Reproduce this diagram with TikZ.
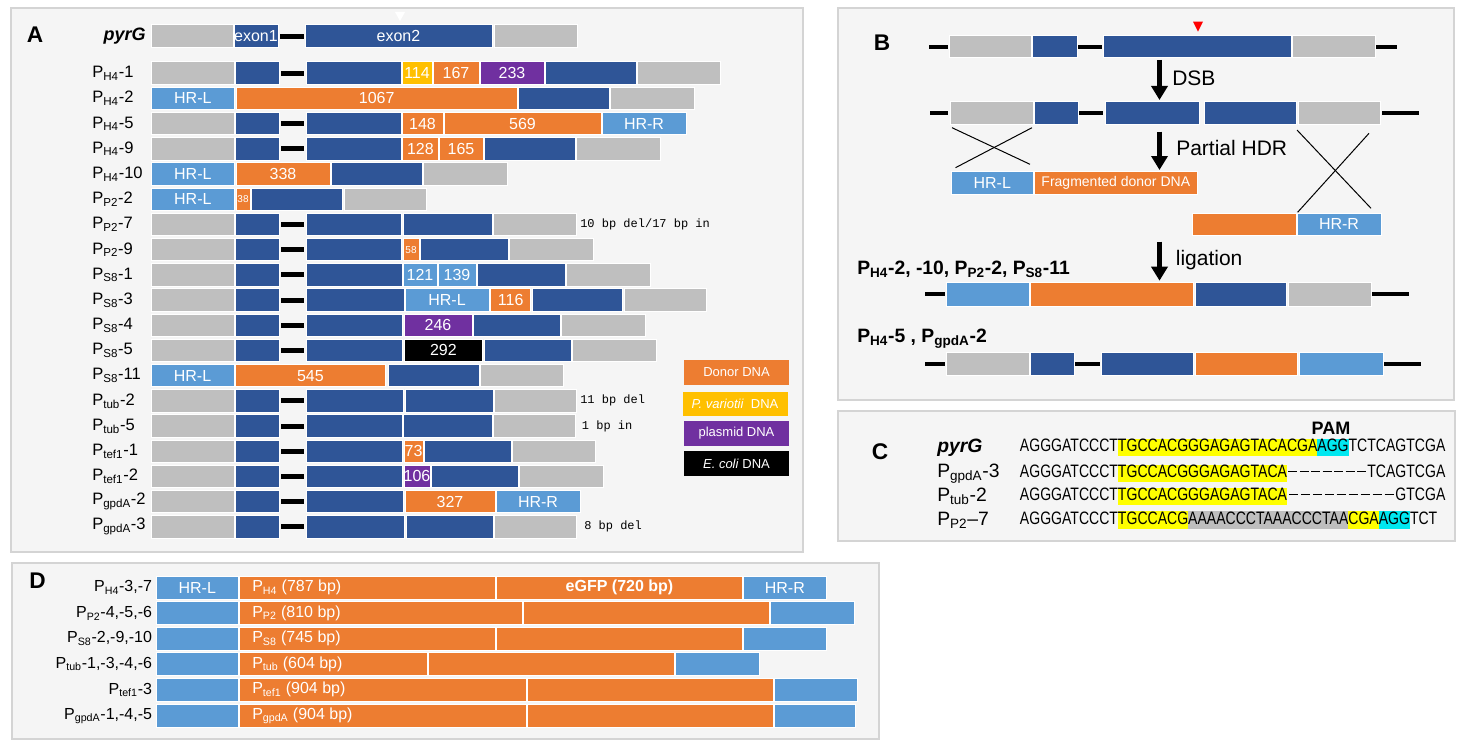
\documentclass[tikz,border=0pt]{standalone}
\usepackage{fontspec}
\setmainfont{Liberation Sans}
\newfontfamily\annfont{Liberation Mono}
\newfontfamily\seqfont[FakeStretch=0.78]{Liberation Sans}
\usetikzlibrary{arrows.meta}
\definecolor{db}{HTML}{2F5597}
\definecolor{gr}{HTML}{BFBFBF}
\definecolor{og}{HTML}{ED7D31}
\definecolor{lb}{HTML}{5B9BD5}
\definecolor{yl}{HTML}{FFC000}
\definecolor{pu}{HTML}{7030A0}
\definecolor{bg}{HTML}{F5F5F5}
\definecolor{bd}{HTML}{D4D4D4}
\definecolor{hy}{HTML}{FFFF00}
\definecolor{hc}{HTML}{00E8F0}
\definecolor{hg}{HTML}{BEBEBE}
\newcounter{sgc}
\newcommand\fs[1]{\fontsize{#1}{#1}\selectfont}
\newcommand\sbs[1]{\textsubscript{#1}}
\def\ilw{3.75pt}
\newcommand\sgm[4]{\stepcounter{sgc}%
  \path[fill=#3,draw=white,line width=0.75pt] ({#1},{\RT}) rectangle ({#2},{\RT+\RH});%
  \node[bartext] (s\arabic{sgc}) at ({(#1+#2)/2},{\RT+\RH/2}) {#4};}
\newcommand\lnk[2]{\draw[line width=\ilw] ({#1},{\RT+\RH/2}) -- ({#2},{\RT+\RH/2});}
\newcommand\stdpre{\sgm{151}{234}{gr}{}\sgm{235}{279}{db}{}\lnk{281}{304}}
\newcommand\rlab[1]{\stepcounter{sgc}\node[rowlab] (l\arabic{sgc}) at (92,{\RT+\RH/2}) {#1};}
\newcommand\annot[2]{\stepcounter{sgc}\node[ann] (a\arabic{sgc}) at (#1,{\RT+\RH/2}) {#2};}
\setlength\fboxsep{0pt}
\newcommand\seqstrut{\rule[-3.4pt]{0pt}{13pt}}
\newcommand\hl[2]{\colorbox{#1}{\seqstrut#2}}
\newcommand\gap[1]{\setbox0\hbox{#1}\hbox to \wd0{\xleaders\hbox to 0.62em{\hss\rule[0.3em]{0.5em}{0.07em}\hss}\hfill}}
\begin{document}
\begin{tikzpicture}[x=0.75pt,y=-0.75pt,
 bartext/.style={text=white,font=\fs{12},inner sep=0pt},
 rowlab/.style={anchor=west,font=\fs{12.4},inner sep=0pt},
 dlab/.style={anchor=east,font=\fs{12},inner sep=0pt},
 panlab/.style={font=\bfseries\fs{17},inner sep=0pt},
 panel/.style={fill=bg,draw=bd,line width=1.2pt},
 ann/.style={anchor=west,font=\annfont\fs{9},inner sep=0pt},
 legbox/.style={minimum width=78.75pt,minimum height=18.5pt,text=white,font=\fs{9.75},inner sep=0pt},
 bigarrow/.style={line width=3.5pt,-{Triangle[width=12pt,length=10.5pt]}},
 xline/.style={line width=0.75pt},
 btext/.style={anchor=west,font=\fs{15.75},inner sep=0pt},
 blab/.style={anchor=west,font=\bfseries\fs{14.5},inner sep=0pt},
 clab/.style={anchor=west,font=\fs{14.5},inner sep=0pt},
 seq/.style={anchor=west,font=\seqfont\fs{13.5},inner sep=0pt},
]
\fill[white] (0,0) rectangle (1467,749);
\useasboundingbox (0,0) rectangle (1467,749);
% panels
\draw[panel] (11,8) rectangle (803,552);
\draw[panel] (838,8) rectangle (1454,400);
\draw[panel] (838,411) rectangle (1455,541);
\draw[panel] (12,563) rectangle (879,739);
% ================= A =================
\node[panlab] (pA) at (35,35) {A};
\def\RH{22.5}
\def\RT{25}
\node[anchor=east,font=\bfseries\itshape\fs{13.5},inner sep=0pt] (pyrA) at (146,36.2) {pyrG};
\sgm{151}{233}{gr}{}\sgm{234}{278}{db}{exon1}\lnk{280}{304}\sgm{305}{492}{db}{exon2}\sgm{494}{577}{gr}{}
\fill[white] (395,12) -- (405,12) -- (400,21) -- cycle;
\def\RT{62}\rlab{P\sbs{H4}-1}
\stdpre\sgm{306}{401}{db}{}\sgm{402}{432}{yl}{114}\sgm{433}{479}{og}{167}\sgm{480}{544}{pu}{233}\sgm{545}{636}{db}{}\sgm{637}{720}{gr}{}
\def\RT{87.2}\rlab{P\sbs{H4}-2}
\sgm{151}{234.7}{lb}{HR-L}\sgm{236}{517.3}{og}{1067}\sgm{518}{609}{db}{}\sgm{610}{694}{gr}{}
\def\RT{112.4}\rlab{P\sbs{H4}-5}
\stdpre\sgm{306}{401}{db}{}\sgm{402}{443}{og}{148}\sgm{444}{601}{og}{569}\sgm{602}{686}{lb}{HR-R}
\def\RT{137.6}\rlab{P\sbs{H4}-9}
\stdpre\sgm{306}{401.7}{db}{}\sgm{402.7}{438}{og}{128}\sgm{439}{483}{og}{165}\sgm{484}{575}{db}{}\sgm{576}{660}{gr}{}
\def\RT{162.8}\rlab{P\sbs{H4}-10}
\sgm{151}{234.7}{lb}{HR-L}\sgm{236}{330}{og}{338}\sgm{331}{422}{db}{}\sgm{423}{507}{gr}{}
\def\RT{188}\rlab{P\sbs{P2}-2}
\sgm{151}{234.7}{lb}{HR-L}\sgm{236}{250}{og}{\fs{7.5}38}\sgm{251.7}{342.7}{db}{}\sgm{344}{426.7}{gr}{}
\def\RT{213.2}\rlab{P\sbs{P2}-7}
\stdpre\sgm{306}{401.7}{db}{}\sgm{403}{492}{db}{}\sgm{493}{576}{gr}{}\annot{580}{10 bp del/17 bp in}
\def\RT{238.4}\rlab{P\sbs{P2}-9}
\stdpre\sgm{306}{401.7}{db}{}\sgm{403}{419}{og}{\fs{7.5}58}\sgm{420}{508}{db}{}\sgm{509}{593}{gr}{}
\def\RT{263.6}\rlab{P\sbs{S8}-1}
\stdpre\sgm{306}{402}{db}{}\sgm{403}{437}{lb}{121}\sgm{438}{476}{lb}{139}\sgm{477}{565}{db}{}\sgm{566}{650}{gr}{}
\def\RT{288.8}\rlab{P\sbs{S8}-3}
\stdpre\sgm{306}{404}{db}{}\sgm{405}{489}{lb}{HR-L}\sgm{490.7}{530.7}{og}{116}\sgm{532}{622.7}{db}{}\sgm{624}{706.7}{gr}{}
\def\RT{314}\rlab{P\sbs{S8}-4}
\stdpre\sgm{306}{402.7}{db}{}\sgm{404}{472}{pu}{246}\sgm{473}{560}{db}{}\sgm{561}{645}{gr}{}
\def\RT{339.2}\rlab{P\sbs{S8}-5}
\stdpre\sgm{306}{402.7}{db}{}\sgm{404}{482.7}{black}{292}\sgm{484}{571}{db}{}\sgm{572.3}{656}{gr}{}
\def\RT{364.4}\rlab{P\sbs{S8}-11}
\sgm{151}{234}{lb}{HR-L}\sgm{235}{385.7}{og}{545}\sgm{388}{479}{db}{}\sgm{480}{563}{gr}{}
\def\RT{389.6}\rlab{P\sbs{tub}-2}
\stdpre\sgm{306}{403}{db}{}\sgm{405}{493}{db}{}\sgm{494}{576.7}{gr}{}\annot{580}{11 bp del}
\def\RT{414.8}\rlab{P\sbs{tub}-5}
\stdpre\sgm{306}{402}{db}{}\sgm{403}{492}{db}{}\sgm{493}{575}{gr}{}\annot{581.7}{1 bp in}
\def\RT{440}\rlab{P\sbs{tef1}-1}
\stdpre\sgm{306}{402.7}{db}{}\sgm{404}{423}{og}{73}\sgm{424}{511}{db}{}\sgm{512}{595}{gr}{}
\def\RT{465.2}\rlab{P\sbs{tef1}-2}
\stdpre\sgm{306}{402.7}{db}{}\sgm{404}{430}{pu}{106}\sgm{431}{518}{db}{}\sgm{519}{603}{gr}{}
\def\RT{490.4}\rlab{P\sbs{gpdA}-2}
\stdpre\sgm{306}{403.3}{db}{}\sgm{405}{495}{og}{327}\sgm{496}{580}{lb}{HR-R}
\def\RT{515.6}\rlab{P\sbs{gpdA}-3}
\stdpre\sgm{306}{404}{db}{}\sgm{406}{493}{db}{}\sgm{494}{576.7}{gr}{}\annot{584}{8 bp del}
% legend
\node[legbox,fill=og] (lg1) at (736.5,372.5) {Donor DNA};
\node[legbox,fill=yl] (lg2) at (735,404) {\textit{P. variotii}\ \ DNA};
\node[legbox,fill=pu] (lg3) at (736.5,433.5) {plasmid DNA};
\node[legbox,fill=black] (lg4) at (736.5,463.5) {\textit{E. coli} DNA};
% ================= B =================
\def\ilw{3pt}
\node[panlab] (pB) at (882,43) {B};
\def\RT{35.7}\def\RH{22}
\lnk{929}{947.5}\sgm{949}{1031}{gr}{}\sgm{1032}{1077}{db}{}\lnk{1078}{1102}\sgm{1103}{1291}{db}{}\sgm{1292}{1375}{gr}{}\lnk{1376}{1397}
\fill[red] (1193,21.7) -- (1203,21.7) -- (1198,31.7) -- cycle;
\coordinate (d1) at (1159.5,60); \coordinate (d2) at (1159.5,100);
\draw[bigarrow] (d1) -- (d2);
\node[btext] (tDSB) at (1172,78) {DSB};
\def\RT{101.7}\def\RH{22.6}
\lnk{930}{948}\sgm{950}{1033}{gr}{}\sgm{1034}{1078}{db}{}\lnk{1079}{1103}\sgm{1105}{1199}{db}{}\sgm{1204.5}{1296}{db}{}\sgm{1298}{1380}{gr}{}\lnk{1382}{1419}
\draw[xline] (952,127.7) -- (1030,164.3);
\draw[xline] (1032,127.7) -- (955.5,167.7);
\draw[xline] (1297,130) -- (1371,208.3);
\draw[xline] (1369,133.3) -- (1297.6,212.3);
\coordinate (h1) at (1159.5,131.7); \coordinate (h2) at (1159.5,170);
\draw[bigarrow] (h1) -- (h2);
\node[btext] (tHDR) at (1176,148.3) {Partial HDR};
\def\RT{171}\def\RH{23.3}
\sgm{951.5}{1033}{lb}{HR-L}\sgm{1034}{1197.6}{og}{\fs{10.5}Fragmented donor DNA}
\def\RT{213.3}\def\RH{21.7}
\sgm{1192}{1296}{og}{}\sgm{1297}{1381}{lb}{HR-R}
\coordinate (g1) at (1159.5,241.7); \coordinate (g2) at (1159.5,280.7);
\draw[bigarrow] (g1) -- (g2);
\node[btext] (tlig) at (1175.6,260) {ligation};
\node[blab] (bl1) at (857,269) {P\sbs{H4}-2, -10, P\sbs{P2}-2, P\sbs{S8}-11};
\def\RT{282.7}\def\RH{23.3}
\lnk{925}{945.4}\sgm{946.6}{1029}{lb}{}\sgm{1030}{1193.6}{og}{}\sgm{1195}{1286.4}{db}{}\sgm{1288}{1371}{gr}{}\lnk{1372}{1409}
\node[blab] (bl2) at (857,339) {P\sbs{H4}-5 , P\sbs{gpdA}-2};
\def\RT{352}\def\RH{23}
\lnk{925}{945}\sgm{946.6}{1029}{gr}{}\sgm{1030}{1074}{db}{}\lnk{1075}{1100}\sgm{1101}{1193.6}{db}{}\sgm{1195}{1297.6}{og}{}\sgm{1299}{1383}{lb}{}\lnk{1384}{1421}
% ================= C =================
\node[panlab] (pC) at (880,452) {C};
\node[font=\bfseries\fs{13.5},inner sep=0pt] (pam) at (1331,428) {PAM};
\node[clab,font=\bfseries\itshape\fs{14.5}] (c1) at (937,447.7) {pyrG};
\node[clab] (c2) at (937,473.3) {P\sbs{gpdA}-3};
\node[clab] (c3) at (937,496.7) {P\sbs{tub}-2};
\node[clab] (c4) at (937,520) {P\sbs{P2}–7};
\node[seq] (q1) at (1019.7,447.7) {\seqstrut AGGGATCCCT\hl{hy}{TGCCACGGGAGAGTACACGA}\hl{hc}{AGG}TCTCAGTCGA};
\node[seq] (q2) at (1019.7,473.3) {\seqstrut AGGGATCCCT\hl{hy}{TGCCACGGGAGAGTACA}\gap{CGAAGGTC}TCAGTCGA};
\node[seq] (q3) at (1019.7,496.7) {\seqstrut AGGGATCCCT\hl{hy}{TGCCACGGGAGAGTACA}\gap{CGAAGGTCTCA}GTCGA};
\node[seq] (q4) at (1019.7,520) {\seqstrut AGGGATCCCT\hl{hy}{TGCCACG}\hl{hg}{AAAACCCTAAACCCTAA}\hl{hy}{CGA}\hl{hc}{AGG}TCT};
% ================= D =================
\node[panlab] (pD) at (37.5,580.5) {D};
\def\RH{23}
\newcommand\drow[6]{\def\RT{#1}%
  \stepcounter{sgc}\node[dlab] (dl\arabic{sgc}) at (152.3,{\RT+\RH/2}) {#2};%
  \sgm{156}{238.5}{lb}{}\sgm{239.5}{#4}{og}{}\sgm{#4+1}{#5}{og}{}\sgm{#5+1}{#6}{lb}{}%
  \stepcounter{sgc}\node[bartext,anchor=west] (dp\arabic{sgc}) at (252,{\RT+\RH/2}) {#3};}
\drow{576}{P\sbs{H4}-3,-7}{P\sbs{H4} (787 bp)}{495}{742}{826}
\node[bartext] (dhl) at (197.25,587.5) {HR-L};
\node[bartext,font=\bfseries\fs{12}] (deg) at (619.5,587.5) {eGFP (720 bp)};
\node[bartext] (dhr) at (784.85,587.5) {HR-R};
\drow{601.8}{P\sbs{P2}-4,-5,-6}{P\sbs{P2} (810 bp)}{522}{769}{854}
\drow{627}{P\sbs{S8}-2,-9,-10}{P\sbs{S8} (745 bp)}{495}{742}{826}
\drow{652.5}{P\sbs{tub}-1,-3,-4,-6}{P\sbs{tub} (604 bp)}{427.5}{674}{759}
\drow{678.3}{P\sbs{tef1}-3}{P\sbs{tef1} (904 bp)}{526}{773}{857}
\drow{704.3}{P\sbs{gpdA}-1,-4,-5}{P\sbs{gpdA} (904 bp)}{526}{773}{855}
\end{tikzpicture}
\end{document}
